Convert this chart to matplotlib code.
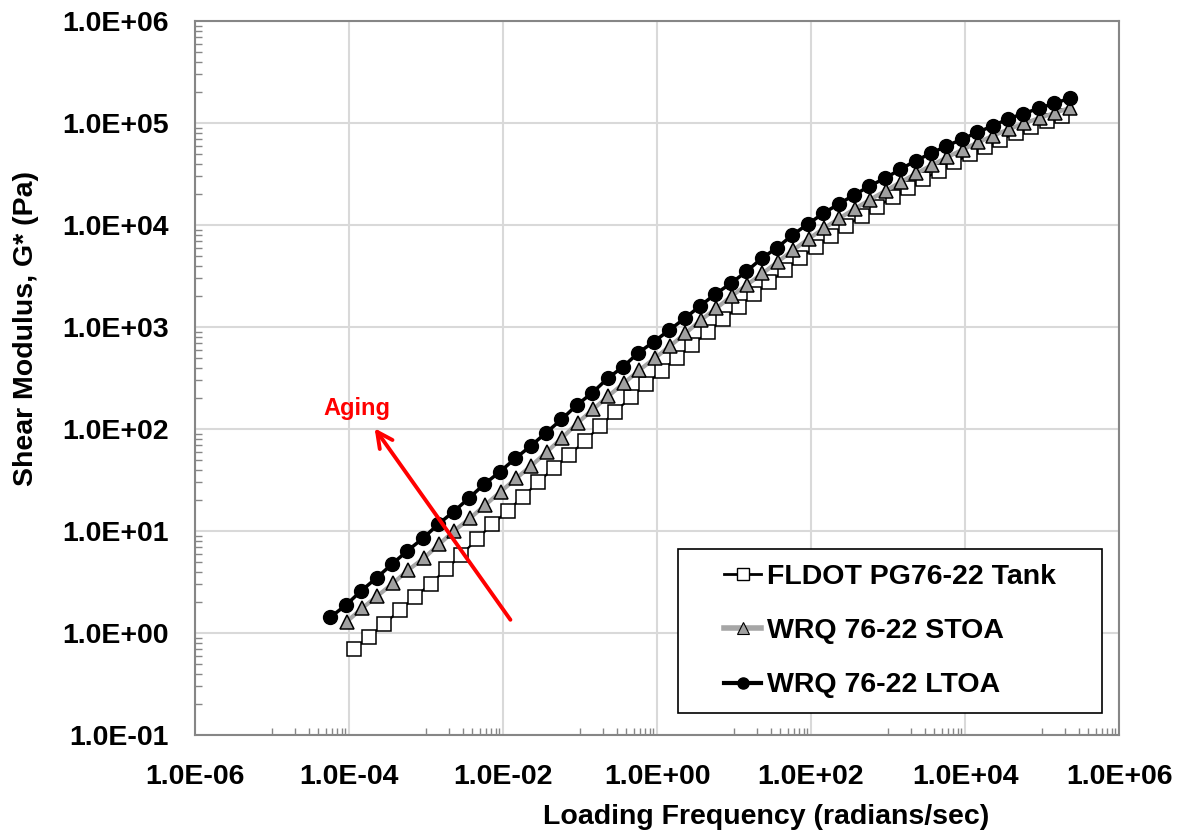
import numpy as np
import matplotlib
matplotlib.use("Agg")
import matplotlib.pyplot as plt
from matplotlib.lines import Line2D
from matplotlib.patches import Rectangle
from matplotlib.ticker import FixedLocator, FuncFormatter, LogLocator, NullFormatter

plt.rcParams['font.family'] = ['Liberation Sans', 'DejaVu Sans']
plt.rcParams['font.weight'] = 'bold'

# loading frequency (rad/s) and G* (Pa)
freq_tank = [1.15e-4, 1.82e-4, 2.88e-4, 4.57e-4, 7.24e-4,
             1.15e-3, 1.82e-3, 2.88e-3, 4.57e-3, 7.24e-3,
             1.15e-2, 1.82e-2, 2.88e-2, 4.57e-2, 7.24e-2,
             0.115, 0.182, 0.288, 0.457, 0.724,
             1.15, 1.82, 2.88, 4.57, 7.24,
             11.5, 18.2, 28.8, 45.7, 72.4,
             115, 182, 288, 457, 724,
             1150, 1820, 2880, 4570, 7240,
             11500, 18200, 28800, 45700, 72400,
             115000, 182000]
g_tank = [0.692, 0.912, 1.23, 1.67, 2.26, 3.05, 4.21, 5.82, 8.30, 11.6,
          15.8, 21.7, 30.4, 41.1, 55.6, 75.9, 107, 148, 204, 275,
          372, 501, 667, 891, 1189, 1585, 2089, 2735, 3606, 4732,
          6109, 7798, 9840, 12300, 15100, 18660, 22960, 28050, 34120, 41110,
          49200, 58210, 68390, 79620, 91410, 104200, 118300]

freq_stoa = [9.33e-5, 1.48e-4, 2.34e-4, 3.72e-4, 5.89e-4,
             9.33e-4, 1.48e-3, 2.34e-3, 3.72e-3, 5.89e-3,
             9.33e-3, 1.48e-2, 2.34e-2, 3.72e-2, 5.89e-2,
             9.33e-2, 0.148, 0.234, 0.372, 0.589,
             0.933, 1.48, 2.34, 3.72, 5.89,
             9.33, 14.8, 23.4, 37.2, 58.9,
             93.3, 148, 234, 372, 589,
             933, 1480, 2340, 3720, 5890,
             9330, 14800, 23400, 37200, 58900,
             93300, 148000, 234000]
g_stoa = [1.29, 1.75, 2.31, 3.07, 4.15, 5.40, 7.41, 10.1, 13.3, 18.0,
          24.3, 32.8, 43.7, 59.8, 82.2, 115, 156, 211, 281, 378,
          493, 652, 867, 1172, 1524, 2014, 2600, 3350, 4365, 5689,
          7328, 9290, 11640, 14450, 17780, 21730, 26490, 32140, 38730, 46240,
          54950, 64570, 75340, 87100, 99310, 112200, 125900, 141300]

freq_ltoa = [5.75e-5, 9.12e-5, 1.45e-4, 2.29e-4, 3.63e-4,
             5.75e-4, 9.12e-4, 1.45e-3, 2.29e-3, 3.63e-3,
             5.75e-3, 9.12e-3, 1.45e-2, 2.29e-2, 3.63e-2,
             5.75e-2, 9.12e-2, 0.145, 0.229, 0.363,
             0.575, 0.912, 1.45, 2.29, 3.63,
             5.75, 9.12, 14.5, 22.9, 36.3,
             57.5, 91.2, 145, 229, 363,
             575, 912, 1450, 2290, 3630,
             5750, 9120, 14500, 22900, 36300,
             57500, 91200, 145000, 229000]
g_ltoa = [1.43, 1.88, 2.60, 3.48, 4.74, 6.41, 8.47, 11.7, 15.5, 21.1,
          28.9, 38.1, 51.6, 68.1, 92.0, 124, 172, 227, 314, 408,
          560, 718, 935, 1216, 1607, 2109, 2679, 3508, 4710, 5998,
          7980, 10230, 13030, 16070, 19680, 24100, 28710, 35160, 42760, 50470,
          59570, 69180, 81100, 93540, 109900, 123600, 139300, 156000, 174600]

labels = ["FLDOT PG76-22 Tank", "WRQ 76-22 STOA", "WRQ 76-22 LTOA"]

# aging arrow (tail -> head) and its label, in data units
arrow_tail = (1.31e-2, 1.28)
arrow_head = (2.05e-4, 107)
aging_text = (1.27e-4, 160)

W, H = 1177, 834
fig = plt.figure(figsize=(W / 100, H / 100), dpi=100)
ax = fig.add_axes([195 / W, (H - 735) / H, 924 / W, 714 / H])

grey_line = '#a6a6a6'
ax.plot(freq_tank, g_tank, color='black', lw=1.6, marker='s', ms=10.5,
        mfc='white', mec='black', mew=1.1, zorder=3)
ax.plot(freq_stoa, g_stoa, color=grey_line, lw=3, marker='^', ms=10.5,
        mfc='#a0a0a0', mec='black', mew=1.1, zorder=4)
ax.plot(freq_ltoa, g_ltoa, color='black', lw=2.5, marker='o', ms=10,
        mfc='black', mec='black', zorder=5)

ax.set_xscale('log')
ax.set_yscale('log')
ax.set_xlim(1e-6, 1e6)
ax.set_ylim(1e-1, 1e6)

ax.xaxis.set_major_locator(FixedLocator([10.0 ** e for e in range(-6, 7, 2)]))
ax.xaxis.set_minor_locator(FixedLocator([m * 10.0 ** e for e in range(-5, 6, 2) for m in range(1, 10)]))
ax.yaxis.set_major_locator(FixedLocator([10.0 ** e for e in range(-1, 7)]))
ax.yaxis.set_minor_locator(LogLocator(base=10, subs=range(2, 10)))
fmt = FuncFormatter(lambda v, p: f"{v:.1E}")
ax.xaxis.set_major_formatter(fmt)
ax.yaxis.set_major_formatter(fmt)
ax.xaxis.set_minor_formatter(NullFormatter())
ax.yaxis.set_minor_formatter(NullFormatter())

ax.grid(True, which='major', color='#d9d9d9', lw=1.5, zorder=0)
ax.set_axisbelow(True)
ax.tick_params(which='major', length=0, labelsize=20.5)
ax.tick_params(axis='x', which='major', pad=21)
ax.tick_params(axis='y', which='major', pad=19)
ax.tick_params(which='minor', direction='in', length=5, width=1, color='#868686')
for s in ax.spines.values():
    s.set_color('#868686')
    s.set_linewidth(1.5)

fig.text(766 / W, 1 - 817 / H, "Loading Frequency (radians/sec)", ha='center', va='center',
         fontsize=20.5, fontweight='bold')
fig.text(26 / W, 1 - 328 / H, "Shear Modulus, G* (Pa)", ha='center', va='center',
         rotation=90, fontsize=20.5, fontweight='bold')

ax.annotate("", xy=arrow_head, xytext=arrow_tail,
            arrowprops=dict(arrowstyle='->', color='red', lw=2.8, mutation_scale=28), zorder=6)
ax.text(aging_text[0], aging_text[1], "Aging", color='red', fontsize=17,
        fontweight='bold', ha='center', va='center', zorder=6)

# legend box
x0, x1 = (678 - 195) / 924, (1102 - 195) / 924
y0, y1 = (735 - 713) / 714, (735 - 549) / 714
ax.add_patch(Rectangle((x0, y0), x1 - x0, y1 - y0, transform=ax.transAxes,
                       facecolor='white', edgecolor='black', lw=1.2, zorder=7))
handles = [
    Line2D([], [], color='black', lw=2, marker='s', ms=8, mfc='white', mec='black', mew=1),
    Line2D([], [], color=grey_line, lw=4, marker='^', ms=8, mfc='#a0a0a0', mec='black', mew=0.8),
    Line2D([], [], color='black', lw=3, marker='o', ms=8, mfc='black'),
]
leg = ax.legend(handles, labels, loc='center', bbox_to_anchor=((x0 + x1) / 2, (y0 + y1) / 2),
                frameon=False, fontsize=20.5, handlelength=1.3, handletextpad=0.2,
                labelspacing=1.0, borderpad=0.0)
leg.set_zorder(8)

fig.savefig("out.png", dpi=100)
